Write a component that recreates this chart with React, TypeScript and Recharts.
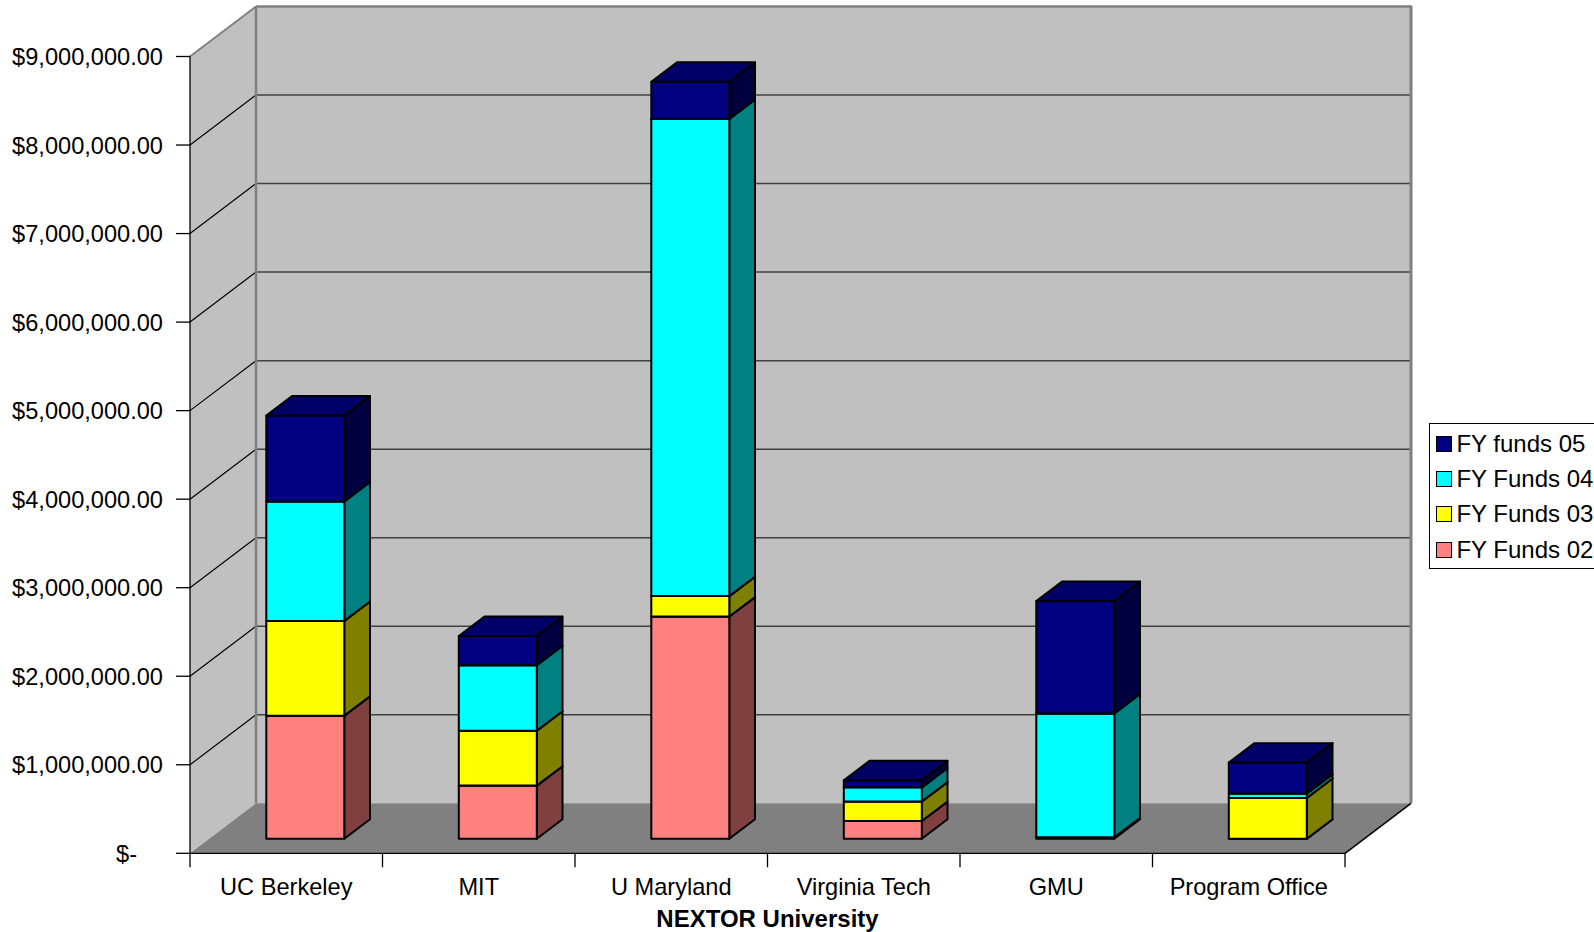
import React from 'react';
import { BarChart, Bar, XAxis, YAxis, CartesianGrid, Legend } from 'recharts';

// ---- data ----
const categories = ['UC Berkeley', 'MIT', 'U Maryland', 'Virginia Tech', 'GMU', 'Program Office'];
const fyFunds02 = [1390000, 600000, 2510000, 200000, 15000, 0];
const fyFunds03 = [1070000, 620000, 230000, 220000, 0, 460000];
const fyFunds04 = [1350000, 740000, 5390000, 160000, 1400000, 50000];
const fyFunds05 = [970000, 330000, 420000, 80000, 1270000, 350000];
const yTicks = [0, 1000000, 2000000, 3000000, 4000000, 5000000, 6000000, 7000000, 8000000, 9000000];
const seriesNames = ['FY Funds 02', 'FY Funds 03', 'FY Funds 04', 'FY funds 05'];
const seriesKeys = ['f02', 'f03', 'f04', 'f05'];
const xTitle = 'NEXTOR University';

const data = categories.map((name, i) => ({
  name,
  f02: fyFunds02[i],
  f03: fyFunds03[i],
  f04: fyFunds04[i],
  f05: fyFunds05[i],
}));

// ---- styles ----
const FONT = '"Liberation Sans", Arial, Helvetica, sans-serif';
const FS = 23.6;
const colors = [
  { front: '#FF8080', side: '#804040', top: '#CC6666' },
  { front: '#FFFF00', side: '#808000', top: '#CCCC00' },
  { front: '#00FFFF', side: '#008080', top: '#00CCCC' },
  { front: '#000080', side: '#000040', top: '#000066' },
];

const W = 1594;
const H = 932;
const MARGIN = { top: 56.5, right: 249, left: 0, bottom: 0 };
const Y_AXIS_W = 190;
const X_AXIS_H = 78.7;

// 3D projection
const WALL_DX = 66;
const WALL_DY = -50;
const BAR_SX = 19.3;
const BAR_SY = -14.6;
const BAR_DX = 25.7;
const BAR_DY = -19.4;

const PLOT_X = MARGIN.left + Y_AXIS_W;
const PLOT_Y = MARGIN.top;
const PLOT_W = W - MARGIN.right - PLOT_X;
const PLOT_H = H - MARGIN.bottom - X_AXIS_H - PLOT_Y;

const makeShape = (c: { front: string; side: string; top: string }) => (props: any) => {
  const { x, y, width, height } = props;
  if (x == null || y == null) return <g />;
  const fx = x + BAR_SX;
  const fy = y + BAR_SY;
  const w = width;
  const h = Math.max(0, height);
  const side = `${fx + w},${fy} ${fx + w + BAR_DX},${fy + BAR_DY} ${fx + w + BAR_DX},${fy + h + BAR_DY} ${fx + w},${fy + h}`;
  const top = `${fx},${fy} ${fx + BAR_DX},${fy + BAR_DY} ${fx + w + BAR_DX},${fy + BAR_DY} ${fx + w},${fy}`;
  return (
    <g>
      <polygon points={side} fill={c.side} stroke="#000" strokeWidth={2} strokeLinejoin="round" />
      <rect x={fx} y={fy} width={w} height={h} fill={c.front} stroke="#000" strokeWidth={2} strokeLinejoin="round" />
      <polygon points={top} fill={c.top} stroke="#000" strokeWidth={2} strokeLinejoin="round" />
    </g>
  );
};

const renderGridLine = (p: any) => {
  const { x1, y1, x2, index } = p;
  const gx = typeof p.x === 'number' ? p.x : PLOT_X;
  const gy = typeof p.y === 'number' ? p.y : PLOT_Y;
  const gw = typeof p.width === 'number' ? p.width : PLOT_W;
  const gh = typeof p.height === 'number' ? p.height : PLOT_H;
  const isTop = Math.abs(y1 - gy) < 1;
  const isBottom = Math.abs(y1 - (gy + gh)) < 1;
  const last = index === yTicks.length - 1;
  const by = gy + gh;
  return (
    <g key={`gl-${index}`}>
      {index === 0 && (
        <g>
          <rect x={gx + WALL_DX} y={gy + WALL_DY} width={gw} height={gh} fill="#C0C0C0" />
          <polygon
            points={`${gx},${gy} ${gx + WALL_DX},${gy + WALL_DY} ${gx + WALL_DX},${by + WALL_DY} ${gx},${by}`}
            fill="#C0C0C0"
          />
          <polygon
            points={`${gx},${by} ${gx + gw},${by} ${gx + gw + WALL_DX},${by + WALL_DY} ${gx + WALL_DX},${by + WALL_DY}`}
            fill="#808080"
          />
        </g>
      )}
      {!isTop && !isBottom && (
        <g>
          <line x1={x1 + WALL_DX} y1={y1 + WALL_DY} x2={x2 + WALL_DX} y2={y1 + WALL_DY} stroke="#404040" strokeWidth={1.5} />
          <line x1={x1} y1={y1} x2={x1 + WALL_DX} y2={y1 + WALL_DY} stroke="#000" strokeWidth={1.2} />
        </g>
      )}
      {last && (
        <g>
          <line x1={gx} y1={gy} x2={gx + WALL_DX} y2={gy + WALL_DY} stroke="#808080" strokeWidth={2} />
          <line x1={gx + WALL_DX} y1={gy + WALL_DY} x2={gx + gw + WALL_DX} y2={gy + WALL_DY} stroke="#808080" strokeWidth={2.5} />
          <line x1={gx + WALL_DX} y1={gy + WALL_DY} x2={gx + WALL_DX} y2={by + WALL_DY} stroke="#808080" strokeWidth={2.5} />
          <line x1={gx + gw + WALL_DX} y1={gy + WALL_DY - 1} x2={gx + gw + WALL_DX} y2={by + WALL_DY} stroke="#808080" strokeWidth={3} />
          <line x1={gx + gw} y1={by} x2={gx + gw + WALL_DX} y2={by + WALL_DY} stroke="#000" strokeWidth={1.5} />
        </g>
      )}
    </g>
  );
};

const fmtMoney = (v: number) =>
  v === 0 ? '$-' : '$' + v.toLocaleString('en-US', { minimumFractionDigits: 2, maximumFractionDigits: 2 });

const YTick = (p: any) => {
  const { x, y, payload } = p;
  const v = payload.value as number;
  return (
    <text x={v === 0 ? x - 26 : x} y={y} dy="0.36em" textAnchor="end" fontSize={FS} fontFamily={FONT} fill="#000">
      {fmtMoney(v)}
    </text>
  );
};

const XTick = (p: any) => {
  const { x, y, payload } = p;
  const half = payload && payload.offset > 0 ? payload.offset : PLOT_W / categories.length / 2;
  const isLast = payload.value === categories[categories.length - 1];
  return (
    <g>
      <line x1={x - half} y1={y} x2={x - half} y2={y + 14} stroke="#000" strokeWidth={1.3} />
      {isLast && <line x1={x + half} y1={y} x2={x + half} y2={y + 14} stroke="#000" strokeWidth={1.3} />}
      <text x={x} y={y + 33.4} dy="0.36em" textAnchor="middle" fontSize={FS} fontFamily={FONT} fill="#000">
        {payload.value}
      </text>
    </g>
  );
};

const LegendBox = () => {
  const order = [3, 2, 1, 0];
  return (
    <div
      style={{
        border: '1px solid #000',
        background: '#fff',
        width: 200,
        fontFamily: FONT,
        fontSize: FS + 0.4,
        color: '#000',
        boxSizing: 'content-box',
        paddingTop: 2,
      }}
    >
      {order.map((i) => (
        <div key={i} style={{ display: 'flex', alignItems: 'center', height: 35.4, paddingLeft: 6.4 }}>
          <div
            style={{
              width: 16,
              height: 16,
              boxSizing: 'border-box',
              border: '1.5px solid #000',
              background: colors[i].front,
              marginRight: 4,
              flex: 'none',
            }}
          />
          <span style={{ lineHeight: 1, whiteSpace: 'nowrap' }}>{seriesNames[i]}</span>
        </div>
      ))}
    </div>
  );
};

export default function App() {
  return (
    <div style={{ position: 'absolute', left: 0, top: 0, width: W, height: H, overflow: 'hidden', background: '#fff' }}>
      <BarChart width={W} height={H} data={data} margin={MARGIN} barSize={78}>
        <CartesianGrid vertical={false} horizontal={renderGridLine} />
        <YAxis
          type="number"
          domain={[0, 9000000]}
          ticks={yTicks}
          interval={0}
          width={Y_AXIS_W}
          tickSize={14}
          tickMargin={13}
          axisLine={{ stroke: '#000', strokeWidth: 1.3 }}
          tickLine={{ stroke: '#000', strokeWidth: 1.3 }}
          tick={<YTick />}
        />
        <XAxis
          dataKey="name"
          type="category"
          height={X_AXIS_H}
          interval={0}
          tickSize={0}
          tickMargin={0}
          tickLine={false}
          axisLine={{ stroke: '#000', strokeWidth: 1.3 }}
          tick={<XTick />}
          label={{
            value: xTitle,
            position: 'insideBottom',
            offset: 5.5,
            fontSize: FS + 0.4,
            fontWeight: 'bold',
            fontFamily: FONT,
            fill: '#000',
          }}
        />
        <Legend
          layout="vertical"
          align="center"
          verticalAlign="middle"
          wrapperStyle={{ left: 1429, top: 423, width: 210, height: 145 }}
          content={() => <LegendBox />}
        />
        {seriesKeys.map((k, i) => (
          <Bar
            key={k}
            dataKey={k}
            name={seriesNames[i]}
            stackId="a"
            fill={colors[i].front}
            isAnimationActive={false}
            shape={makeShape(colors[i])}
          />
        ))}
      </BarChart>
    </div>
  );
}
